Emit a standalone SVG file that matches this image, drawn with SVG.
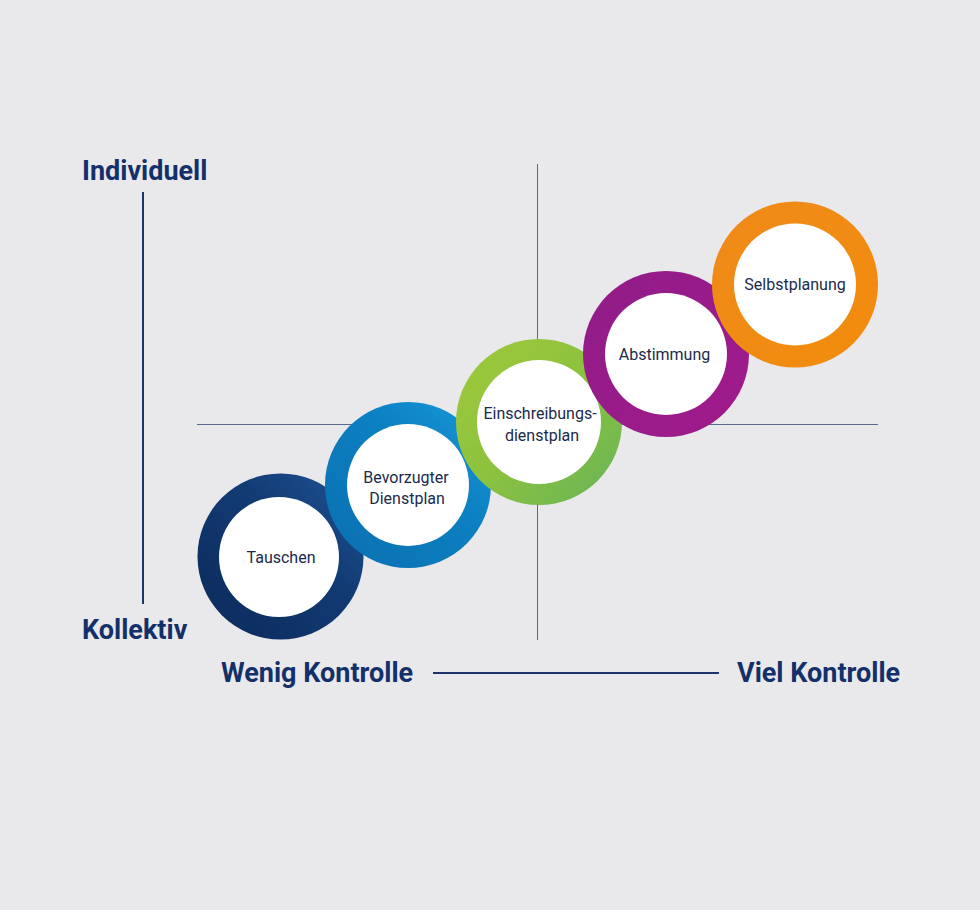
<svg xmlns="http://www.w3.org/2000/svg" width="980" height="910" viewBox="0 0 980 910">
<defs>
<style>
.axis{font-family:Roboto,"Liberation Sans",sans-serif;font-weight:700;font-size:27px;fill:#14306a}
.lbl{font-family:Roboto,"Liberation Sans",sans-serif;font-size:16px;fill:#1a2a4c;text-anchor:middle}
.grid{stroke:#5a6a8c;stroke-width:1;fill:none}
.ax{stroke:#1e3468;stroke-width:2;fill:none}
.inner{fill:#ffffff}
</style>
<linearGradient id="gNavy" x1="0" y1="1" x2="1" y2="0">
<stop offset="0" stop-color="#0b2a5a"/><stop offset="0.6" stop-color="#123b74"/><stop offset="1" stop-color="#1f5596"/>
</linearGradient>
<linearGradient id="gBlue" x1="0" y1="1" x2="1" y2="0">
<stop offset="0" stop-color="#0a6fb0"/><stop offset="0.6" stop-color="#0c80c2"/><stop offset="1" stop-color="#1a9ad8"/>
</linearGradient>
<linearGradient id="gGreen" x1="0" y1="0" x2="1" y2="1">
<stop offset="0" stop-color="#9fc93a"/><stop offset="0.5" stop-color="#8cc23e"/><stop offset="1" stop-color="#66b35a"/>
</linearGradient>
<linearGradient id="gPurple" x1="0" y1="0" x2="1" y2="1">
<stop offset="0" stop-color="#901c88"/><stop offset="1" stop-color="#a11a8c"/>
</linearGradient>
<linearGradient id="gOrange" x1="0" y1="0" x2="1" y2="1">
<stop offset="0" stop-color="#ef8a1a"/><stop offset="1" stop-color="#f28c0c"/>
</linearGradient>
</defs>
<rect width="980" height="910" fill="#e9e9ec"/>
<g id="connectors">
<line class="grid" x1="537.5" y1="164" x2="537.5" y2="640"/>
<line class="grid" x1="197" y1="424.5" x2="878" y2="424.5"/>
<line class="ax" x1="143" y1="192" x2="143" y2="604"/>
<line class="ax" x1="433" y1="673" x2="719" y2="673"/>
</g>
<g id="axis-labels">
<text class="axis" x="82" y="180">Individuell</text>
<text class="axis" x="82" y="639">Kollektiv</text>
<text class="axis" x="221" y="682">Wenig Kontrolle</text>
<text class="axis" x="737" y="682">Viel Kontrolle</text>
</g>
<g id="node-tauschen">
<circle cx="280.5" cy="556.5" r="83" fill="url(#gNavy)"/>
<circle class="inner" cx="279" cy="557" r="60"/>
<text class="lbl" x="281" y="563">Tauschen</text>
</g>
<g id="node-bevorzugter">
<circle cx="408" cy="485" r="83" fill="url(#gBlue)"/>
<circle class="inner" cx="408" cy="485" r="61"/>
<text class="lbl" x="406" y="483">Bevorzugter</text>
<text class="lbl" x="407" y="504">Dienstplan</text>
</g>
<g id="node-einschreibung">
<circle cx="539" cy="422" r="83" fill="url(#gGreen)"/>
<circle class="inner" cx="539" cy="422" r="62"/>
<text class="lbl" x="540" y="419">Einschreibungs-</text>
<text class="lbl" x="542" y="441">dienstplan</text>
</g>
<g id="node-abstimmung">
<circle cx="666" cy="354" r="83" fill="url(#gPurple)"/>
<circle class="inner" cx="666" cy="354" r="61"/>
<text class="lbl" x="664.5" y="360">Abstimmung</text>
</g>
<g id="node-selbstplanung">
<circle cx="795" cy="284.5" r="83" fill="url(#gOrange)"/>
<circle class="inner" cx="795" cy="284.5" r="61"/>
<text class="lbl" x="795" y="290">Selbstplanung</text>
</g>
</svg>
